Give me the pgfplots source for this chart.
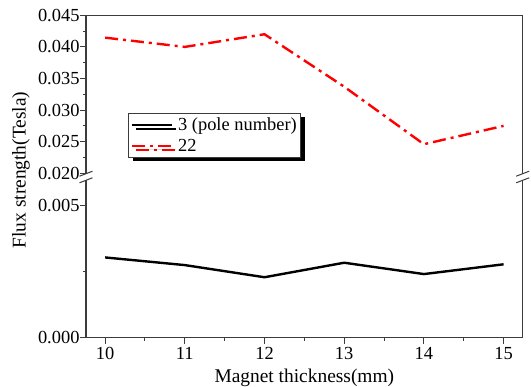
\documentclass[border=0pt]{standalone}
\usepackage{fontspec}
\setmainfont{Liberation Serif}
\usepackage{pgfplots}
\pgfplotsset{compat=1.18}
\usetikzlibrary{shadows}
\definecolor{axgray}{RGB}{60,60,60}
\begin{document}
\begin{tikzpicture}[x=1bp,y=1bp]
\pgfplotsset{
  common/.style={
    scale only axis, width=436.7bp,
    xmin=9.76, xmax=15.24,
    axis line style={axgray, line width=1.2bp},
    tick style={axgray, line width=1bp},
    tick align=outside,
    major tick length=6bp, minor tick length=3.5bp,
    ticklabel style={font=\fontsize{18.5}{21}\selectfont},
    /pgf/number format/assume math mode=true,
    scaled y ticks=false,
    yticklabel style={/pgf/number format/.cd, fixed, fixed zerofill, precision=3, /tikz/.cd, xshift=3bp},
    ytick pos=left,
  }
}
\path[use as bounding box] (-86bp,-49.3bp) rectangle (445bp,337.7bp);
% upper panel
\begin{axis}[common, at={(0,160.7bp)}, anchor=south west, height=161.7bp,
  ymin=0.019415, ymax=0.045,
  ytick={0.020,0.025,0.030,0.035,0.040,0.045}, minor y tick num=1,
  axis x line*=top, xtick=\empty,
  legend style={at={(rel axis cs:0.0969,0.396)}, anchor=north west,
    draw=axgray, line width=0.8bp, fill=white,
    general shadow={fill=black, shadow xshift=4bp, shadow yshift=-4bp},
    font=\fontsize{18.5}{21}\selectfont, inner xsep=2bp, inner ysep=2.5bp,
    row sep=3bp, column sep=3bp, cells={anchor=west}},
  legend image code/.code={\draw[#1] (0bp,0bp) -- (40bp,0bp);},
]
\addlegendimage{black, line width=2.4bp}
\addlegendentry{3 (pole number)}
\addplot[red, line width=2.4bp, dash pattern=on 13bp off 5bp on 3bp off 5bp] coordinates {
(10,0.04146) (11,0.0400) (12,0.0420) (13,0.0337) (14,0.0246) (15,0.0275)};
\addlegendentry{22}
\end{axis}
% lower panel
\begin{axis}[common, at={(0,0)}, anchor=south west, height=160.7bp,
  ymin=0, ymax=0.006087,
  ytick={0,0.005}, minor ytick={0.0025},
  axis x line*=bottom,
  xtick={10,11,12,13,14,15}, minor x tick num=1,
  xlabel={Magnet thickness(mm)},
  xlabel style={font=\fontsize{19.5}{23}\selectfont, at={(rel axis cs:0.5,0)}, anchor=base, yshift=-45bp},
]
\addplot[black, line width=2.4bp] coordinates {
(10,0.00304) (11,0.00275) (12,0.00229) (13,0.00284) (14,0.00241) (15,0.00278)};
\end{axis}
% axis break marks
\foreach \xx in {0,436.7}{
  \fill[white] (\xx-1.5,157.6) rectangle (\xx+1.5,163.8);
  \draw[axgray, line width=1bp] (\xx-6.5,161.5) -- (\xx+6.5,166.5);
  \draw[axgray, line width=1bp] (\xx-6.5,154.9) -- (\xx+6.5,159.9);
}
\node[rotate=90, font=\fontsize{19.5}{23}\selectfont] at (-65bp,167.7bp) {Flux strength(Tesla)};
\end{tikzpicture}
\end{document}
